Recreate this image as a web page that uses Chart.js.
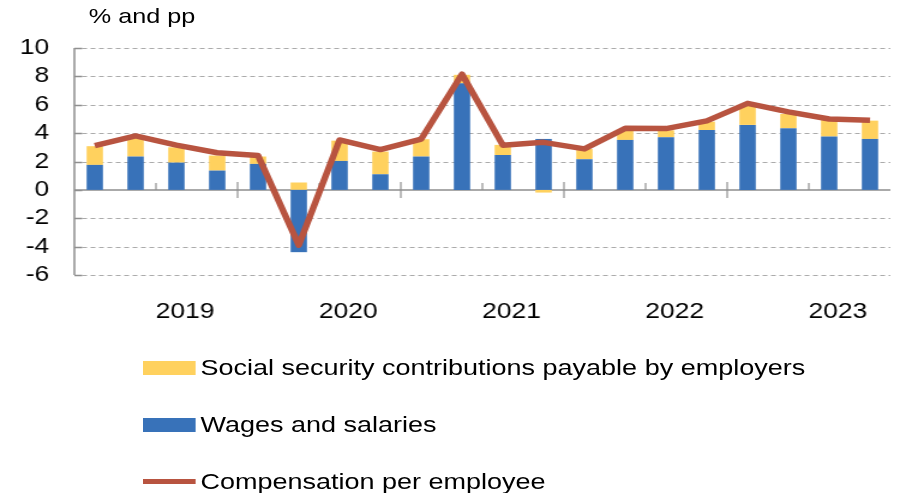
<!DOCTYPE html>
<html>
<head>
<meta charset="utf-8">
<script src="https://cdn.jsdelivr.net/npm/chart.js@4.4.1/dist/chart.umd.min.js"></script>
<style>
  html, body { margin: 0; padding: 0; background: #fff; overflow: hidden; }
  /* the reference is stretched sideways, so draw narrow and scale */
  #wrap { position: relative; width: 749px; height: 493px; transform: scaleX(1.2); transform-origin: 0 0;
          font-family: "Liberation Sans", Arial, sans-serif; color: #000; }
  #chart { position: absolute; left: 0; top: 0; }
  #unit { position: absolute; left: 74px; top: 5px; font-size: 21px; line-height: 22px; }
  #legend { position: absolute; left: 119px; top: 339px; }
  .item { display: flex; align-items: center; height: 57px; font-size: 22.5px; }
  .swatch { width: 44px; margin-right: 4px; }
</style>
</head>
<body>
<div id="wrap">
  <canvas id="chart" width="749" height="493"></canvas>
  <div id="unit">% and pp</div>
  <div id="legend"></div>
</div>
<script>
const quarters = ['2019 Q1','2019 Q2','2019 Q3','2019 Q4','2020 Q1','2020 Q2','2020 Q3','2020 Q4',
                  '2021 Q1','2021 Q2','2021 Q3','2021 Q4','2022 Q1','2022 Q2','2022 Q3','2022 Q4',
                  '2023 Q1','2023 Q2','2023 Q3','2023 Q4'];
const years = ['2019','2020','2021','2022','2023'];

const wages = [1.76, 2.35, 1.92, 1.36, 1.83, -4.39, 2.04, 1.10, 2.35, 7.51,
               2.46, 3.59, 2.16, 3.52, 3.71, 4.22, 4.58, 4.34, 3.76, 3.59];
const socialSecurity = [1.32, 1.30, 1.08, 1.06, 0.52, 0.52, 1.43, 1.60, 1.22, 0.60,
                        0.71, -0.19, 0.72, 0.68, 0.49, 0.59, 1.41, 1.01, 1.17, 1.29];
const compensation = [3.12, 3.80, 3.15, 2.62, 2.42, -3.90, 3.52, 2.84, 3.58, 8.15,
                      3.15, 3.35, 2.89, 4.34, 4.32, 4.86, 6.10, 5.50, 5.00, 4.90];

const BLUE = '#3872b9';
const YELLOW = '#ffd15e';
const RED = '#b85440';
const FONT = {family: '"Liberation Sans", Arial, sans-serif', size: 22};

// dashed grid, zero line, axis line and the little tick marks
const axisMarks = {
  id: 'axisMarks',
  beforeDatasetsDraw(chart) {
    const {ctx, chartArea, scales: {x, y}} = chart;
    const y0 = y.getPixelForValue(0);
    ctx.save();
    ctx.strokeStyle = '#ababab';
    ctx.lineWidth = 1;
    ctx.setLineDash([4, 3]);
    ctx.beginPath();
    y.ticks.forEach(t => {
      if (t.value === 0) return;
      const py = Math.round(y.getPixelForValue(t.value)) + 0.5;
      ctx.moveTo(chartArea.left + 6.5, py);
      ctx.lineTo(chartArea.right, py);
    });
    ctx.stroke();
    ctx.setLineDash([]);

    ctx.strokeStyle = '#8f8f8f';
    ctx.lineWidth = 1.5;
    ctx.beginPath();
    ctx.moveTo(chartArea.left, y0);
    ctx.lineTo(chartArea.right, y0);
    ctx.moveTo(chartArea.left, chartArea.top);
    ctx.lineTo(chartArea.left, chartArea.bottom);
    y.ticks.forEach(t => {
      const py = Math.round(y.getPixelForValue(t.value)) + 0.5;
      ctx.moveTo(chartArea.left, py);
      ctx.lineTo(chartArea.left + 6.5, py);
    });
    ctx.stroke();
    ctx.lineWidth = 1.2;
    ctx.beginPath();
    for (let i = 2; i < quarters.length; i += 2) {
      const px = x.getPixelForValue(i - 0.5);
      if (i % 4 === 0) {
        ctx.moveTo(px, y0 - 8);
        ctx.lineTo(px, y0 + 8);
      } else {
        ctx.moveTo(px, y0 - 7);
        ctx.lineTo(px, y0);
      }
    }
    ctx.stroke();
    ctx.restore();
  }
};

const ctx = document.getElementById('chart').getContext('2d');
const chart = new Chart(ctx, {
  type: 'bar',
  data: {
    labels: quarters,
    datasets: [
      {
        type: 'line',
        label: 'Compensation per employee',
        data: compensation,
        borderColor: RED,
        backgroundColor: RED,
        borderWidth: 5.5,
        borderJoinStyle: 'round',
        borderCapStyle: 'butt',
        pointRadius: 0,
        tension: 0,
        stack: 'cpe',
        order: 0
      },
      {
        label: 'Wages and salaries',
        data: wages,
        backgroundColor: BLUE,
        stack: 'pay',
        order: 1
      },
      {
        label: 'Social security contributions payable by employers',
        data: socialSecurity,
        backgroundColor: YELLOW,
        stack: 'pay',
        order: 1
      }
    ]
  },
  options: {
    responsive: false,
    animation: false,
    events: [],
    barPercentage: 0.4,
    categoryPercentage: 1.0,
    layout: {padding: {top: 48, right: 0, bottom: 0, left: 0}},
    plugins: {
      legend: {display: false},
      tooltip: {enabled: false},
      title: {display: false}
    },
    scales: {
      x: {
        stacked: true,
        offset: true,
        grid: {display: false, drawTicks: false},
        border: {display: false},
        ticks: {
          autoSkip: false,
          maxRotation: 0,
          minRotation: 0,
          align: 'start',
          labelOffset: -17.2,
          padding: 24,
          color: '#000',
          font: FONT,
          callback: (value, index) => index % 4 === 2 ? years[Math.floor(index / 4)] : ''
        },
        afterFit: scale => { scale.height = 218; }
      },
      y: {
        stacked: true,
        min: -6,
        max: 10,
        ticks: {stepSize: 2, autoSkip: false, padding: 21, color: '#000', font: FONT},
        grid: {display: false, drawTicks: false},
        border: {display: false},
        afterFit: scale => { scale.width = 62; }
      }
    }
  },
  plugins: [axisMarks]
});

// legend built from the datasets, in the reference order
const legend = document.getElementById('legend');
[2, 1, 0].forEach(i => {
  const ds = chart.data.datasets[i];
  const item = document.createElement('div');
  item.className = 'item';
  const sw = document.createElement('div');
  sw.className = 'swatch';
  sw.style.background = ds.type === 'line' ? ds.borderColor : ds.backgroundColor;
  sw.style.height = ds.type === 'line' ? '5px' : '14px';
  const txt = document.createElement('span');
  txt.textContent = ds.label;
  item.appendChild(sw);
  item.appendChild(txt);
  legend.appendChild(item);
});
</script>
</body>
</html>
